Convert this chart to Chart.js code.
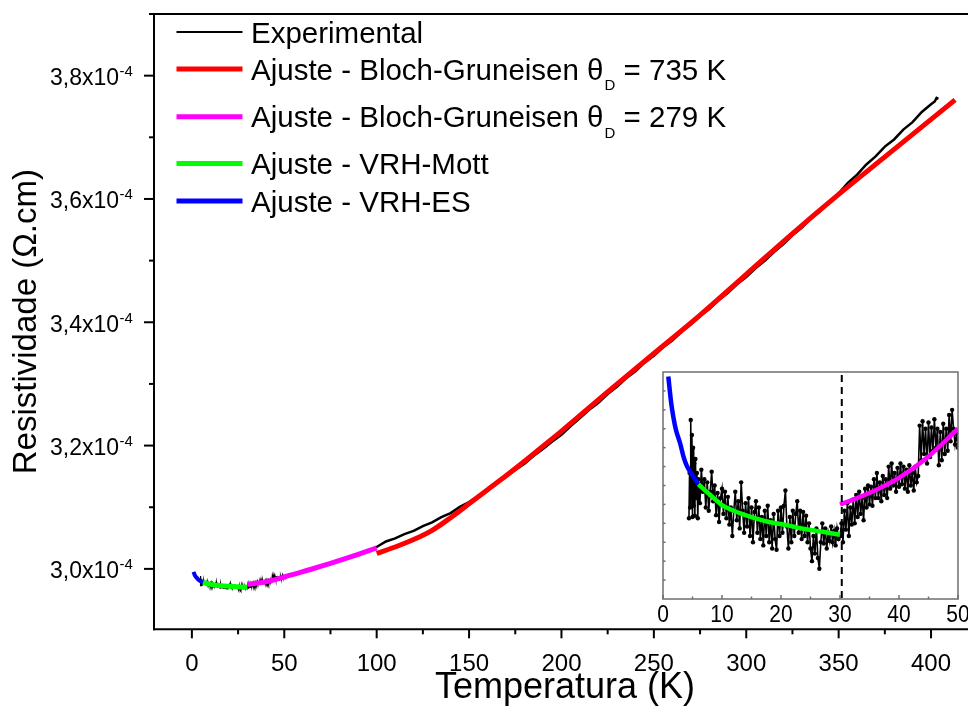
<!DOCTYPE html>
<html>
<head>
<meta charset="utf-8">
<script src="https://cdn.jsdelivr.net/npm/chart.js@4.4.1/dist/chart.umd.min.js"></script>
<style>
  html, body { margin: 0; padding: 0; background: #fff; overflow: hidden; }
  #wrap { position: relative; width: 968px; height: 707px; overflow: hidden; }
  #main { position: absolute; left: 0; top: 0; }
  #inset { position: absolute; left: 640px; top: 360px; }
</style>
</head>
<body>
<div id="wrap">
  <canvas id="main" width="985" height="707" style="width:985px;height:707px"></canvas>
  <canvas id="inset" width="345" height="275" style="width:345px;height:275px"></canvas>
</div>
<script>
// Resistivity values are in units of 1e-4 Ohm.cm, temperatures in K.

// Experimental resistivity curve
const expTemp = [
  4.40, 4.50, 4.60, 4.70, 4.80, 4.90, 5.00, 5.10, 5.20, 5.30, 5.40, 5.50, 5.60, 5.75, 5.90,
  6.00, 6.25, 6.50, 6.75, 7.00, 7.25, 7.50, 7.75, 8.00, 8.25, 8.50, 8.75, 9.00, 9.25, 9.50, 9.75,
  10.00, 10.25, 10.50, 10.75, 11.00, 11.25, 11.50, 11.75, 12.00, 12.25, 12.50, 12.75, 13.00, 13.25, 13.50, 13.75,
  14.00, 14.25, 14.50, 14.75, 15.00, 15.25, 15.50, 15.75, 16.00, 16.25, 16.50, 16.75, 17.00, 17.25, 17.50, 17.75,
  18.00, 18.25, 18.50, 18.75, 19.00, 19.25, 19.50, 19.75, 20.00, 20.25, 20.50, 20.75, 21.00, 21.25, 21.50, 21.75,
  22.00, 22.25, 22.50, 22.75, 23.00, 23.25, 23.50, 23.75, 24.00, 24.25, 24.50, 24.75, 25.00, 25.25, 25.50, 25.75,
  26.00, 26.25, 26.50, 26.75, 27.00, 27.25, 27.50, 27.75, 28.00, 28.25, 28.50, 28.75, 29.00, 29.25, 29.50, 29.75,
  30.00, 30.25, 30.50, 30.75, 31.00, 31.25, 31.50, 31.75, 32.00, 32.25, 32.50, 32.75, 33.00, 33.25, 33.50, 33.75,
  34.00, 34.25, 34.50, 34.75, 35.00, 35.25, 35.50, 35.75, 36.00, 36.25, 36.50, 36.75, 37.00, 37.25, 37.50, 37.75,
  38.00, 38.25, 38.50, 38.75, 39.00, 39.25, 39.50, 39.75, 40.00, 40.25, 40.50, 40.75, 41.00, 41.25, 41.50, 41.75,
  42.00, 42.25, 42.50, 42.75, 43.00, 43.25, 43.50, 43.75, 44.00, 44.25, 44.50, 44.75, 45.00, 45.25, 45.50, 45.75,
  46.00, 46.25, 46.50, 46.75, 47.00, 47.25, 47.50, 47.75, 48.00, 48.25, 48.50, 48.75, 49.00, 49.25, 49.50, 49.75,
  50.00, 52.5, 55, 57.5, 60, 62.5, 65, 67.5, 70, 72.5, 75, 77.5, 80, 82.5, 85, 87.5, 90, 92.5, 95, 97.5, 100,
  105, 110, 115, 120, 125, 130, 135, 140, 145, 150, 155, 160, 165, 170, 175, 180, 185, 190, 195, 200,
  205, 210, 215, 220, 225, 230, 235, 240, 245, 250, 255, 260, 265, 270, 275, 280, 285, 290, 295, 300,
  305, 310, 315, 320, 325, 330, 335, 340, 345, 350, 355, 360, 365, 370, 375, 380, 385, 390, 395, 400,
  402, 403, 404
];
const expRho = [
  2.9728, 2.9800, 2.9745, 2.9884, 2.9760, 2.9860, 2.9730, 2.9840, 2.9748, 2.9815, 2.9732, 2.9822, 2.9760, 2.9800, 2.9728,
  2.9790, 2.9752, 2.9805, 2.9770, 2.9790, 2.9745, 2.9785, 2.9740, 2.9770, 2.9802, 2.9755, 2.9780, 2.9733, 2.9768, 2.9722, 2.9760,
  2.9775, 2.9735, 2.9770, 2.9728, 2.9762, 2.9718, 2.9745, 2.9700, 2.9740, 2.9770, 2.9725, 2.9755, 2.9712, 2.9785, 2.9740, 2.9705,
  2.9752, 2.9715, 2.9760, 2.9700, 2.9745, 2.9690, 2.9738, 2.9755, 2.9705, 2.9745, 2.9695, 2.9730, 2.9685, 2.9740, 2.9700, 2.9748,
  2.9690, 2.9725, 2.9680, 2.9735, 2.9695, 2.9678, 2.9740, 2.9700, 2.9745, 2.9705, 2.9748, 2.9772, 2.9715, 2.9680, 2.9730, 2.9690,
  2.9740, 2.9700, 2.9735, 2.9755, 2.9705, 2.9740, 2.9695, 2.9738, 2.9700, 2.9732, 2.9690, 2.9720, 2.9680, 2.9660, 2.9700, 2.9672,
  2.9712, 2.9665, 2.9648, 2.9690, 2.9720, 2.9688, 2.9712, 2.9680, 2.9705, 2.9692, 2.9715, 2.9690, 2.9708, 2.9685, 2.9712, 2.9695,
  2.9700, 2.9720, 2.9690, 2.9740, 2.9710, 2.9752, 2.9700, 2.9745, 2.9718, 2.9758, 2.9720, 2.9765, 2.9730, 2.9770, 2.9735, 2.9760,
  2.9725, 2.9775, 2.9745, 2.9780, 2.9750, 2.9778, 2.9748, 2.9790, 2.9760, 2.9800, 2.9760, 2.9785, 2.9755, 2.9795, 2.9765, 2.9790,
  2.9760, 2.9810, 2.9775, 2.9815, 2.9780, 2.9800, 2.9770, 2.9808, 2.9778, 2.9815, 2.9782, 2.9810, 2.9775, 2.9805, 2.9770, 2.9812,
  2.9780, 2.9800, 2.9772, 2.9810, 2.9785, 2.9795, 2.9875, 2.9820, 2.9882, 2.9830, 2.9870, 2.9815, 2.9880, 2.9825, 2.9872, 2.9835,
  2.9885, 2.9840, 2.9870, 2.9812, 2.9865, 2.9820, 2.9878, 2.9830, 2.9870, 2.9835, 2.9892, 2.9850, 2.9900, 2.9870, 2.9845, 2.9862,
  2.9840, 2.9895, 2.9905, 2.9940, 2.9950, 2.9985, 2.9990, 3.0030, 3.0038, 3.0075, 3.0085, 3.0120, 3.0130, 3.0170, 3.0180, 3.0220, 3.0228, 3.0270, 3.0280, 3.0325, 3.0355,
  3.0445, 3.0495, 3.0565, 3.0615, 3.0695, 3.0755, 3.0840, 3.0905, 3.1005, 3.1085, 3.1185, 3.1275, 3.1395, 3.1495, 3.1605, 3.1705, 3.1835, 3.1945, 3.2065, 3.2175,
  3.2315, 3.2445, 3.2580, 3.2695, 3.2835, 3.2955, 3.3090, 3.3205, 3.3345, 3.3455, 3.3595, 3.3705, 3.3845, 3.3965, 3.4100, 3.4215, 3.4355, 3.4475, 3.4615, 3.4735,
  3.4875, 3.4995, 3.5140, 3.5265, 3.5410, 3.5530, 3.5680, 3.5800, 3.5960, 3.6090, 3.6260, 3.6395, 3.6560, 3.6690, 3.6850, 3.6965, 3.7125, 3.7245, 3.7410, 3.7535,
  3.7580, 3.7640, 3.7625
];

// Bloch-Gruneisen fit, theta_D = 735 K
const bg735Temp = [100, 110, 120, 130, 140, 150, 160, 170, 180, 190, 200, 225, 250, 275, 300, 325, 350, 375, 400, 413];
const bg735Rho  = [3.0250, 3.0355, 3.0475, 3.0625, 3.0830, 3.1055, 3.1285, 3.1510, 3.1745, 3.1990, 3.2235, 3.2871, 3.3494, 3.4116, 3.4777, 3.5439, 3.6074, 3.6682, 3.7290, 3.7607];

// Bloch-Gruneisen fit, theta_D = 279 K
const bg279Temp = [30, 35, 40, 45, 50, 55, 60, 65, 70, 75, 80, 85, 90, 95, 100];
const bg279Rho  = [2.9750, 2.9768, 2.9792, 2.9826, 2.9870, 2.9912, 2.9955, 2.9998, 3.0043, 3.0090, 3.0138, 3.0187, 3.0237, 3.0288, 3.0340];

// Mott variable-range hopping fit
const mottTemp = [6, 8, 10, 12, 14, 16, 18, 20, 22, 24, 26, 28, 30];
const mottRho  = [2.9782, 2.9765, 2.9749, 2.9740, 2.9733, 2.9727, 2.9722, 2.9719, 2.9715, 2.9711, 2.9708, 2.9705, 2.9702];

// Efros-Shklovskii variable-range hopping fit
const esTemp = [0.9, 1.1, 1.4, 1.75, 2.2, 2.9, 3.5, 4.0, 5.0, 6.0];
const esRho  = [2.9953, 2.9935, 2.9910, 2.9889, 2.9868, 2.9847, 2.9825, 2.9812, 2.9796, 2.9782];

// Axis ticks
const xMajor = [0, 50, 100, 150, 200, 250, 300, 350, 400];
const xMinor = [25, 75, 125, 175, 225, 275, 325, 375, 425];
const yMajor = [3.0, 3.2, 3.4, 3.6, 3.8];
const yMajorLabels = ['3,0', '3,2', '3,4', '3,6', '3,8'];
const yMinor = [3.1, 3.3, 3.5, 3.7, 3.9];
const insetXMajor = [0, 10, 20, 30, 40, 50];
const insetXMinor = [5, 15, 25, 35, 45];
const insetYTicks = [2.963, 2.966, 2.969, 2.972, 2.975, 2.978, 2.981, 2.984, 2.987, 2.990, 2.993];
const regimeBoundary = 30.3;   // crossover between hopping and metallic regimes

const FONT = '"Liberation Sans", Arial, sans-serif';
const pts = (t, r) => t.map((v, i) => ({ x: v, y: r[i] }));

function text(ctx, s, x, y, size, align, sy) {
  ctx.save();
  ctx.translate(x, y);
  ctx.scale(1, sy || 1);
  ctx.font = size + 'px ' + FONT;
  ctx.textAlign = align || 'left';
  ctx.textBaseline = 'alphabetic';
  ctx.fillStyle = '#000';
  ctx.fillText(s, 0, 0);
  const w = ctx.measureText(s).width;
  ctx.restore();
  return w;
}

function line(ctx, x1, y1, x2, y2) {
  ctx.beginPath(); ctx.moveTo(x1, y1); ctx.lineTo(x2, y2); ctx.stroke();
}

const mainDecor = {
  id: 'mainDecor',
  afterDraw(chart) {
    const { ctx, chartArea: a, scales: { x, y } } = chart;
    ctx.save();
    ctx.strokeStyle = '#000';
    ctx.lineWidth = 2;
    ctx.lineCap = 'square';
    // frame
    line(ctx, a.left, a.top, a.left, a.bottom);
    line(ctx, a.left, a.bottom, a.right, a.bottom);
    line(ctx, a.left, a.top, a.right, a.top);
    line(ctx, a.right, a.top, a.right, a.bottom);
    ctx.lineCap = 'butt';
    // x ticks
    xMajor.forEach(v => { const px = x.getPixelForValue(v); line(ctx, px, a.bottom, px, a.bottom + 9); });
    xMinor.forEach(v => { const px = x.getPixelForValue(v); line(ctx, px, a.bottom, px, a.bottom + 5); });
    // y ticks
    yMajor.forEach(v => { const py = y.getPixelForValue(v); line(ctx, a.left, py, a.left - 10, py); });
    yMinor.forEach(v => { const py = y.getPixelForValue(v); line(ctx, a.left, py, a.left - 5, py); });
    // x tick labels
    xMajor.forEach(v => text(ctx, String(v), x.getPixelForValue(v), a.bottom + 41.5, 24, 'center'));
    // y tick labels with power-of-ten superscript
    yMajor.forEach((v, i) => {
      const py = y.getPixelForValue(v);
      text(ctx, yMajorLabels[i] + 'x10', 119, py + 9.5, 23, 'right');
      text(ctx, '-4', 119.5, py + 0.5, 15, 'left');
    });
    // axis titles
    text(ctx, 'Temperatura (K)', 565, 698, 36, 'center');
    ctx.save();
    ctx.translate(35.5, (a.top + a.bottom) / 2);
    ctx.rotate(-Math.PI / 2);
    text(ctx, 'Resistividade (\u03A9.cm)', 0, 0, 33, 'center');
    ctx.restore();

    // legend
    const rows = [32, 69, 116.7, 163.5, 201];
    chart.data.datasets.forEach(ds => {
      const ry = rows[ds.legendRow];
      ctx.strokeStyle = ds.borderColor;
      ctx.lineWidth = ds.legendWidth;
      line(ctx, 176.5, ry, 242.5, ry);
      let tx = 251;
      const base = ry + 10.5;
      tx += text(ctx, ds.legendParts[0], tx, base, 29.5, 'left');
      if (ds.legendParts.length > 1) {
        tx += text(ctx, ds.legendParts[1], tx + 1, base + 10.5, 15, 'left');
        text(ctx, ds.legendParts[2], tx + 1, base, 29.5, 'left');
      }
    });
    ctx.restore();
  }
};

new Chart(document.getElementById('main'), {
  type: 'line',
  data: {
    datasets: [
      { label: 'Experimental', data: pts(expTemp, expRho), borderColor: '#000000', borderWidth: 2.5,
        segment: { borderWidth: c => (c.p1.parsed.x <= 50 ? 1.3 : undefined) },
        pointRadius: 0, order: 10, legendRow: 0, legendWidth: 2, legendParts: ['Experimental'] },
      { label: 'Ajuste - Bloch-Gruneisen \u03B8D = 735 K', data: pts(bg735Temp, bg735Rho), borderColor: '#FF0000',
        borderWidth: 5, pointRadius: 0, cubicInterpolationMode: 'monotone', order: 1, legendRow: 1, legendWidth: 5,
        legendParts: ['Ajuste - Bloch-Gruneisen \u03B8', 'D', ' = 735 K'] },
      { label: 'Ajuste - Bloch-Gruneisen \u03B8D = 279 K', data: pts(bg279Temp, bg279Rho), borderColor: '#FF00FF',
        borderWidth: 5, pointRadius: 0, cubicInterpolationMode: 'monotone', order: 1, legendRow: 2, legendWidth: 5,
        legendParts: ['Ajuste - Bloch-Gruneisen \u03B8', 'D', ' = 279 K'] },
      { label: 'Ajuste - VRH-Mott', data: pts(mottTemp, mottRho), borderColor: '#00FF00',
        borderWidth: 5, pointRadius: 0, cubicInterpolationMode: 'monotone', order: 1, legendRow: 3, legendWidth: 5,
        legendParts: ['Ajuste - VRH-Mott'] },
      { label: 'Ajuste - VRH-ES', data: pts(esTemp, esRho), borderColor: '#0000FF',
        borderWidth: 4, pointRadius: 0, cubicInterpolationMode: 'monotone', order: 1, legendRow: 4, legendWidth: 5,
        legendParts: ['Ajuste - VRH-ES'] }
    ]
  },
  options: {
    responsive: false,
    animation: false,
    devicePixelRatio: 1,
    layout: { padding: { left: 0, top: 14, right: 0, bottom: 0 } },
    plugins: { legend: { display: false }, tooltip: { enabled: false } },
    scales: {
      x: { type: 'linear', min: -20.5, max: 429.2, grid: { display: false }, border: { display: false },
           ticks: { display: false }, afterFit(s) { s.height = 77.7; } },
      y: { type: 'linear', min: 2.902, max: 3.900, grid: { display: false }, border: { display: false },
           ticks: { display: false }, afterFit(s) { s.width = 154; } }
    }
  },
  plugins: [mainDecor]
});

const insetDecor = {
  id: 'insetDecor',
  beforeDatasetsDraw(chart) {
    const { ctx, chartArea: a } = chart;
    ctx.save();
    ctx.fillStyle = '#fff';
    ctx.fillRect(a.left, a.top, a.right - a.left, a.bottom - a.top);
    ctx.restore();
  },
  afterDraw(chart) {
    const { ctx, chartArea: a, scales: { x, y } } = chart;
    ctx.save();
    // dashed regime boundary
    ctx.strokeStyle = '#000';
    ctx.lineWidth = 2;
    ctx.setLineDash([7, 5]);
    const bx = x.getPixelForValue(regimeBoundary);
    line(ctx, bx, a.top + 3, bx, a.bottom);
    ctx.setLineDash([]);
    // frame
    ctx.strokeStyle = '#6e6e6e';
    ctx.lineWidth = 1.5;
    ctx.strokeRect(a.left, a.top, a.right - a.left, a.bottom - a.top);
    // inward ticks
    insetXMajor.forEach(v => { const px = x.getPixelForValue(v); line(ctx, px, a.bottom, px, a.bottom - 4); });
    insetXMinor.forEach(v => { const px = x.getPixelForValue(v); line(ctx, px, a.bottom, px, a.bottom - 2.5); });
    insetYTicks.forEach(v => { const py = y.getPixelForValue(v); line(ctx, a.left, py, a.left + 2.5, py); });
    // tick labels
    insetXMajor.forEach(v => text(ctx, String(v), x.getPixelForValue(v), a.bottom + 22.5, 21, 'center', 1.12));
    ctx.restore();
  }
};

new Chart(document.getElementById('inset'), {
  type: 'line',
  data: {
    datasets: [
      { data: pts(expTemp, expRho), borderColor: '#000', borderWidth: 1.6, pointRadius: 2.2,
        pointBackgroundColor: '#000', pointBorderWidth: 0, order: 10 },
      { data: pts(bg279Temp, bg279Rho), borderColor: '#FF00FF', borderWidth: 4.5, pointRadius: 0,
        cubicInterpolationMode: 'monotone', order: 1 },
      { data: pts(mottTemp, mottRho), borderColor: '#00FF00', borderWidth: 4.5, pointRadius: 0,
        cubicInterpolationMode: 'monotone', order: 1 },
      { data: pts(esTemp, esRho), borderColor: '#0000FF', borderWidth: 4.5, pointRadius: 0,
        cubicInterpolationMode: 'monotone', order: 1 }
    ]
  },
  options: {
    responsive: false,
    animation: false,
    devicePixelRatio: 1,
    layout: { padding: { left: 23, top: 12, right: 27, bottom: 0 } },
    plugins: { legend: { display: false }, tooltip: { enabled: false } },
    scales: {
      x: { type: 'linear', min: 0, max: 50, grid: { display: false }, border: { display: false },
           ticks: { display: false }, afterFit(s) { s.height = 36; } },
      y: { type: 'linear', min: 2.960, max: 2.996, grid: { display: false }, border: { display: false },
           ticks: { display: false }, afterFit(s) { s.width = 0; } }
    }
  },
  plugins: [insetDecor]
});
</script>
</body>
</html>
